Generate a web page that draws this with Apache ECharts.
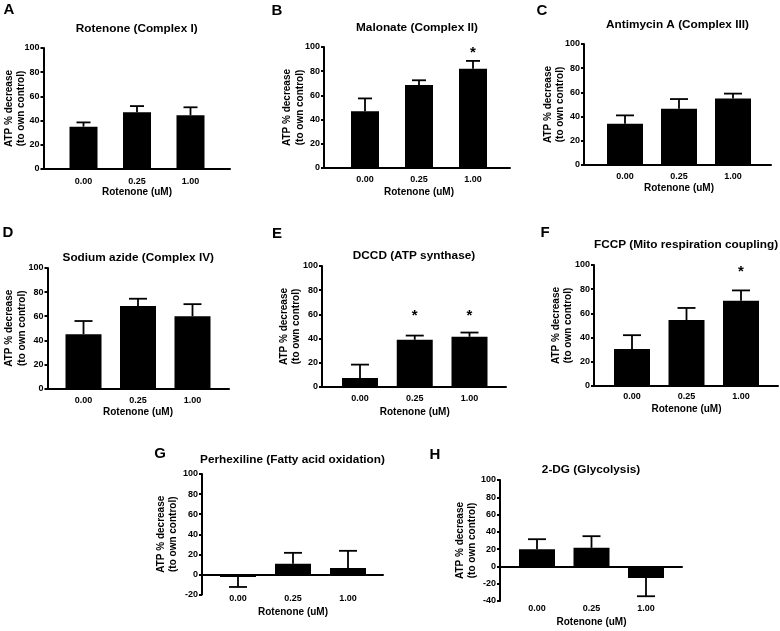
<!DOCTYPE html>
<html>
<head>
<meta charset="utf-8">
<script src="https://cdn.jsdelivr.net/npm/echarts@6/dist/echarts.min.js"></script>
<style>
html,body{margin:0;padding:0;background:#fff;}
#chart{width:780px;height:631px;}
</style>
</head>
<body>
<div id="chart"></div>
<script>
// ---------- data ----------
const categories = ['0.00', '0.25', '1.00'];
const xAxisTitle = 'Rotenone (uM)';
const yAxisTitle = 'ATP % decrease\n(to own control)';
const panelLetters = ['A', 'B', 'C', 'D', 'E', 'F', 'G', 'H'];
const panelTitles = [
  'Rotenone (Complex I)',
  'Malonate (Complex II)',
  'Antimycin A (Complex III)',
  'Sodium azide (Complex IV)',
  'DCCD (ATP synthase)',
  'FCCP (Mito respiration coupling)',
  'Perhexiline (Fatty acid oxidation)',
  '2-DG (Glycolysis)'
];
const meanA = [35, 47, 44.5];     const semA = [3.5, 5, 6.5];
const meanB = [47, 68.5, 82];     const semB = [10.5, 4, 6.5];
const meanC = [34, 46.5, 55];     const semC = [7, 8, 4];
const meanD = [45, 68.5, 60];     const semD = [11, 6, 10];
const meanE = [7.5, 39, 41.5];    const semE = [11, 3.5, 3.5];
const meanF = [30.5, 54.5, 70.5]; const semF = [11.5, 10, 8.5];
const meanG = [-2.5, 10.5, 6.5];  const semG = [10, 11, 17];
const meanH = [20, 21.5, -13.5];  const semH = [11.5, 13.5, 21];
// y position of significance asterisks (null = none)
const starsA = [null, null, null];
const starsB = [null, null, 98];
const starsC = [null, null, null];
const starsD = [null, null, null];
const starsE = [null, 61, 61];
const starsF = [null, null, 97];
const starsG = [null, null, null];
const starsH = [null, null, null];
// y axis ranges and ticks
const yMinStd = 0, yMaxStd = 100, yMinG = -20, yMinH = -40, yTickStep = 20;

const means = [meanA, meanB, meanC, meanD, meanE, meanF, meanG, meanH];
const sems = [semA, semB, semC, semD, semE, semF, semG, semH];
const stars = [starsA, starsB, starsC, starsD, starsE, starsF, starsG, starsH];
const yMins = [yMinStd, yMinStd, yMinStd, yMinStd, yMinStd, yMinStd, yMinG, yMinH];

// ---------- layout (pixels) ----------
const L = [
  {ax:43.5, xe:230, yt:48,  yb:169,   c0:83.5, step:53.5, bw:28, lx:9,   ly:10,  ty:29,  ng:16,   lm:8,  xg:18.5},
  {ax:324,  xe:510, yt:47,  yb:168,   c0:365,  step:54,   bw:28, lx:277, ly:11,  ty:28,  ng:18,   lm:7,  xg:19.5},
  {ax:584,  xe:771, yt:44,  yb:165,   c0:625,  step:54,   bw:36, lx:542, ly:11,  ty:25,  ng:17.5, lm:7,  xg:18.5},
  {ax:47.5, xe:229, yt:268, yb:388.5, c0:83.5, step:54.5, bw:36, lx:8,   ly:233, ty:258, ng:19.5, lm:7.5,xg:19},
  {ax:322,  xe:506, yt:266, yb:387,   c0:360,  step:54.75,bw:36, lx:277, ly:234, ty:256, ng:19.5, lm:7,  xg:20.5},
  {ax:594,  xe:778, yt:265, yb:386,   c0:632,  step:54.5, bw:36, lx:545, ly:233, ty:245, ng:19.5, lm:6,  xg:18.5},
  {ax:202,  xe:383, yt:474, yb:594.5, c0:238,  step:55,   bw:36, lx:160, ly:454, ty:460, ng:22.5, lm:0,  xg:13},
  {ax:500,  xe:682, yt:480, yb:601,   c0:537,  step:54.5, bw:36, lx:435, ly:455, ty:470, ng:21.5, lm:3,  xg:16.5}
];
const FONT = "'Liberation Sans', Arial, Helvetica, sans-serif";
const AXIS_LW = 2, ERR_LW = 1.8;

const grid = [], xAxis = [], yAxis = [], series = [], graphic = [];

L.forEach((p, i) => {
  const h = p.yb - p.yt;
  grid.push({left:p.ax, top:p.yt, width:p.xe - p.ax, height:h, containLabel:false, outerBoundsMode:'none'});
  grid.push({left:p.c0 - p.step/2, top:p.yt, width:p.step*3, height:h, containLabel:false, outerBoundsMode:'none'});
  const gA = 2*i, gB = 2*i + 1;
  xAxis.push({
    gridIndex:gA, type:'value', min:0, max:1,
    axisLine:{show:true, onZero:true, lineStyle:{color:'#000', width:AXIS_LW}},
    axisTick:{show:false}, axisLabel:{show:false}, splitLine:{show:false}
  });
  yAxis.push({
    gridIndex:gA, type:'value', min:yMins[i], max:yMaxStd, interval:yTickStep,
    axisLine:{show:true, onZero:false, lineStyle:{color:'#000', width:AXIS_LW}},
    axisTick:{show:true, length:3, lineStyle:{color:'#000', width:AXIS_LW}},
    axisLabel:{color:'#000', fontSize:9, fontWeight:'bold', fontFamily:FONT, margin:4},
    splitLine:{show:false},
    name:yAxisTitle, nameLocation:'middle', nameRotate:90, nameGap:p.ng, nameMoveOverlap:false,
    nameTextStyle:{color:'#000', fontSize:10, fontWeight:'bold', fontFamily:FONT, lineHeight:12.5}
  });
  xAxis.push({
    gridIndex:gB, type:'category', data:categories,
    axisLine:{show:false, onZero:false}, axisTick:{show:false},
    axisLabel:{color:'#000', fontSize:9, fontWeight:'bold', fontFamily:FONT, margin:p.lm, interval:0},
    splitLine:{show:false},
    name:xAxisTitle, nameLocation:'middle', nameGap:p.xg, nameMoveOverlap:false,
    nameTextStyle:{color:'#000', fontSize:10, fontWeight:'bold', fontFamily:FONT}
  });
  yAxis.push({
    gridIndex:gB, type:'value', min:yMins[i], max:yMaxStd, interval:yTickStep, show:false
  });
  const axB = 2*i + 1;
  series.push({
    type:'bar', xAxisIndex:axB, yAxisIndex:axB, data:means[i], barWidth:p.bw,
    itemStyle:{color:'#000'}, silent:true, z:3
  });
  const cap = p.bw / 2;
  const errData = means[i].map((m, k) => [k, m, m + (m < 0 ? -sems[i][k] : sems[i][k])]);
  series.push({
    type:'custom', xAxisIndex:axB, yAxisIndex:axB, data:errData, clip:false, silent:true, z:2,
    renderItem:function(params, api){
      const a = api.coord([api.value(0), api.value(1)]);
      const b = api.coord([api.value(0), api.value(2)]);
      return {type:'group', children:[
        {type:'line', shape:{x1:a[0], y1:a[1], x2:b[0], y2:b[1]}, style:{stroke:'#000', lineWidth:ERR_LW}},
        {type:'line', shape:{x1:b[0]-cap/2, y1:b[1], x2:b[0]+cap/2, y2:b[1]}, style:{stroke:'#000', lineWidth:ERR_LW}}
      ]};
    }
  });
  const starData = stars[i].map((s, k) => s === null ? null : [k, s]).filter(d => d);
  if (starData.length) {
    series.push({
      type:'custom', xAxisIndex:axB, yAxisIndex:axB, data:starData, clip:false, silent:true, z:4,
      renderItem:function(params, api){
        const c = api.coord([api.value(0), api.value(1)]);
        return {type:'text', x:c[0], y:c[1] + 3,
          style:{text:'*', fill:'#000', fontSize:15, fontWeight:'bold', fontFamily:FONT, align:'center', verticalAlign:'middle'}};
      }
    });
  }
  graphic.push({type:'text', x:p.lx, y:p.ly,
    style:{text:panelLetters[i], fill:'#000', fontSize:15, fontWeight:'bold', fontFamily:FONT, align:'center', verticalAlign:'middle'}});
  graphic.push({type:'text', x:(p.ax + p.xe)/2, y:p.ty,
    style:{text:panelTitles[i], fill:'#000', fontSize:11.8, fontWeight:'bold', fontFamily:FONT, align:'center', verticalAlign:'middle'}});
});

const chart = echarts.init(document.getElementById('chart'), null, {renderer:'canvas'});
chart.setOption({
  backgroundColor:'#fff',
  animation:false,
  grid:grid, xAxis:xAxis, yAxis:yAxis, series:series, graphic:graphic
});
</script>
</body>
</html>
